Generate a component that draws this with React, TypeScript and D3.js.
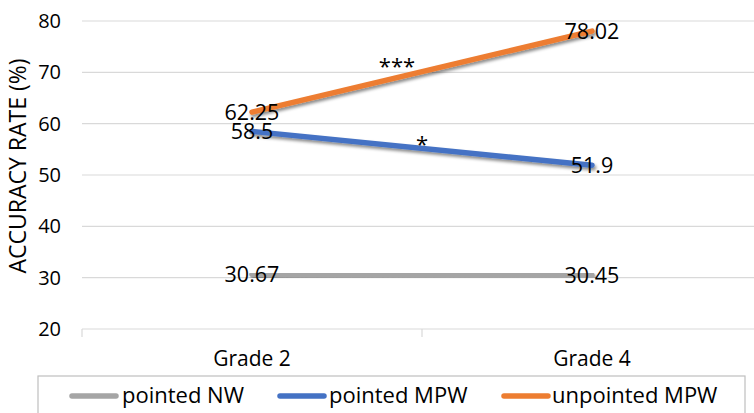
import React from "react";
import * as d3 from "d3";

const categories = ["Grade 2", "Grade 4"];
const seriesNames = ["pointed NW", "pointed MPW", "unpointed MPW"];
const pointedNW = [30.67, 30.45];
const pointedMPW = [58.5, 51.9];
const unpointedMPW = [62.25, 78.02];
const yTicks = [20, 30, 40, 50, 60, 70, 80];
const colors = ["#a5a5a5", "#4472c4", "#ed7d31"];
const sigLabels = [
  { text: "***", value: 72.4, dx: -25 },
  { text: "*", value: 57.2, dx: 0 },
];

const W = 754;
const H = 413;
const FONT = "'Open Sans', 'Noto Sans', sans-serif";

export default function App() {
  const series = [pointedNW, pointedMPW, unpointedMPW];
  const x = d3.scaleBand<string>().domain(categories).range([82, 762]);
  const y = d3.scaleLinear().domain([20, 80]).range([329, 21]);
  const cx = (c: string) => (x(c) as number) + x.bandwidth() / 2;
  const line = d3
    .line<number>()
    .x((_, i) => cx(categories[i]))
    .y((d) => y(d));
  const boundaries = [82, 82 + x.bandwidth(), 82 + 2 * x.bandwidth()];

  const legendItems = [
    { lx: 72, tx: 122 },
    { lx: 280, tx: 329 },
    { lx: 504, tx: 552 },
  ];

  return (
    <div style={{ position: "fixed", left: 0, top: 0 }}>
      <svg width={W} height={H} style={{ display: "block", background: "#fff" }}>
        <defs>
          <filter id="sh" x="-10%" y="-50%" width="120%" height="300%">
            <feDropShadow dx="1.5" dy="2.5" stdDeviation="1.8" floodColor="#000" floodOpacity="0.45" />
          </filter>
        </defs>
        {yTicks.map((t) => (
          <g key={t}>
            <line x1={82} x2={W} y1={y(t)} y2={y(t)} stroke="#d9d9d9" strokeWidth={1.2} />
            <text x={61} y={y(t) + 7} textAnchor="end" fontFamily={FONT} fontSize={20} fill="#000">
              {t}
            </text>
          </g>
        ))}
        {boundaries.map((b, i) => (
          <line key={i} x1={b} x2={b} y1={y(20)} y2={y(20) + 8} stroke="#d9d9d9" strokeWidth={1.2} />
        ))}
        {categories.map((c) => (
          <text key={c} x={cx(c)} y={366} textAnchor="middle" fontFamily={FONT} fontSize={21} fill="#000">
            {c}
          </text>
        ))}
        <text
          transform={`translate(26,${166}) rotate(-90)`}
          textAnchor="middle"
          fontFamily={FONT}
          fontSize={23}
          fill="#000"
        >
          ACCURACY RATE (%)
        </text>
        {series.map((s, i) => (
          <path
            key={i}
            d={line(s) || ""}
            fill="none"
            stroke={colors[i]}
            strokeWidth={5.5}
            strokeLinecap="round"
            filter="url(#sh)"
          />
        ))}
        {series.map((s, i) =>
          s.map((v, j) => (
            <text
              key={`${i}-${j}`}
              x={cx(categories[j])}
              y={y(v) + 7.5}
              textAnchor="middle"
              fontFamily={FONT}
              fontSize={21.5}
              fill="#000"
            >
              {String(v)}
            </text>
          ))
        )}
        {sigLabels.map((l, i) => (
          <text
            key={i}
            x={(cx(categories[0]) + cx(categories[1])) / 2 + l.dx}
            y={y(l.value) + 14}
            textAnchor="middle"
            fontFamily={FONT}
            fontSize={22}
            fill="#000"
          >
            {l.text}
          </text>
        ))}
        <rect x={38} y={376} width={707} height={60} fill="none" stroke="#bfbfbf" strokeWidth={1.2} />
        {seriesNames.map((n, i) => (
          <g key={n}>
            <line
              x1={legendItems[i].lx}
              x2={legendItems[i].lx + 44}
              y1={396}
              y2={396}
              stroke={colors[i]}
              strokeWidth={5.5}
              strokeLinecap="round"
            />
            <text x={legendItems[i].tx} y={403} fontFamily={FONT} fontSize={22} fill="#000">
              {n}
            </text>
          </g>
        ))}
      </svg>
    </div>
  );
}
